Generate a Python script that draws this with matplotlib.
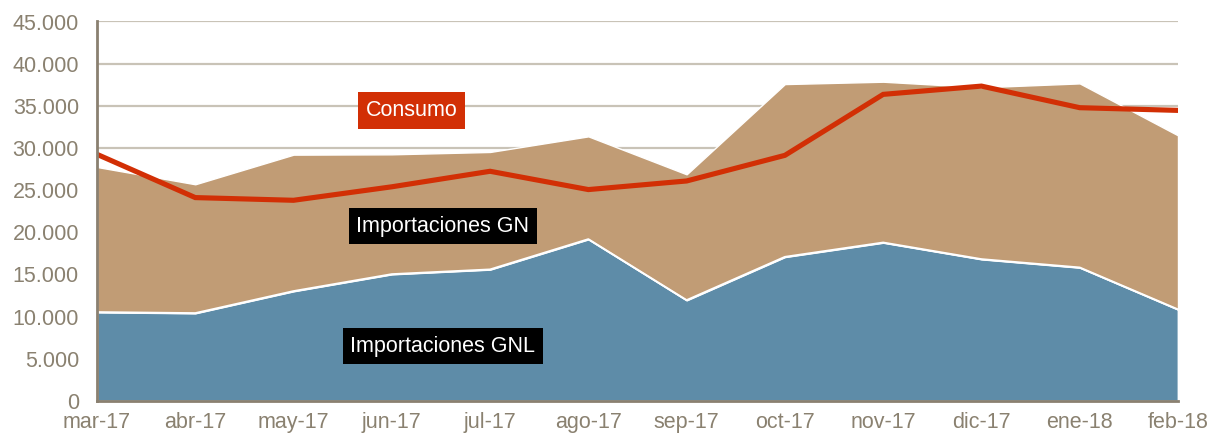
"""Stacked area chart of gas imports with consumption overlay."""

import matplotlib

matplotlib.use("Agg")
import matplotlib.pyplot as plt
import numpy as np

plt.rcParams["font.family"] = ["Liberation Sans", "DejaVu Sans"]

months = ["mar-17", "abr-17", "may-17", "jun-17", "jul-17", "ago-17",
          "sep-17", "oct-17", "nov-17", "dic-17", "ene-18", "feb-18"]

# Values in thousands of cubic metres (approx.)
importaciones_gnl = [10540, 10420, 13030, 15040, 15600, 19190,
                     11960, 17090, 18790, 16820, 15830, 10860]
importaciones_gn = [17210, 15280, 16180, 14210, 13930, 12190,
                    14920, 20490, 19070, 20380, 21830, 20640]
consumo = [29250, 24120, 23800, 25400, 27240, 25070,
           26090, 29130, 36360, 37340, 34780, 34460]

BLUE = "#5e8ca8"
TAN = "#c19c75"
RED = "#d22f05"
TEXT = "#8a8170"
GRID = "#c9c3b7"
SPINE = "#8a8070"

fig = plt.figure(figsize=(12.1, 4.36), dpi=100)
ax = fig.add_axes([97 / 1210, 35 / 436, 1081 / 1210, 379.5 / 436])

x = np.arange(len(months))
gnl = np.array(importaciones_gnl)
total = gnl + np.array(importaciones_gn)

ax.fill_between(x, 0, gnl, color=BLUE, edgecolor="white", linewidth=1.3, zorder=2)
ax.fill_between(x, gnl, total, color=TAN, edgecolor="white", linewidth=1.0, zorder=2)
ax.plot(x, gnl, color="white", linewidth=1.4, zorder=3)
ax.plot(x, consumo, color=RED, linewidth=3.7, solid_capstyle="round",
        solid_joinstyle="miter", zorder=4)

ax.set_xlim(0, 11)
ax.set_ylim(0, 45000)
ax.set_yticks(np.arange(0, 45001, 5000))
ax.yaxis.set_major_formatter(
    plt.FuncFormatter(lambda v, p: f"{v:,.0f}".replace(",", "."))
)
ax.set_xticks(x)
ax.set_xticklabels(months)

ax.grid(axis="y", color=GRID, linewidth=1.6, zorder=0)
ax.set_axisbelow(True)
ax.tick_params(axis="both", length=0, labelsize=15.5, colors=TEXT)
ax.tick_params(axis="y", pad=13)
ax.tick_params(axis="x", pad=8)

for side in ("top", "right"):
    ax.spines[side].set_visible(False)
for side in ("left", "bottom"):
    ax.spines[side].set_color(SPINE)
    ax.spines[side].set_linewidth(2)
    ax.spines[side].set_zorder(5)

# Series labels drawn inside the plot
label_kw = dict(fontsize=15.5, color="white", ha="center", va="center", zorder=6)
ax.text(3.2, 34450, "Consumo",
        bbox=dict(facecolor=RED, edgecolor="none", pad=5.5), **label_kw)
ax.text(3.52, 20750, "Importaciones GN",
        bbox=dict(facecolor="black", edgecolor="none", pad=5.5), **label_kw)
ax.text(3.52, 6500, "Importaciones GNL",
        bbox=dict(facecolor="black", edgecolor="none", pad=5.5), **label_kw)

fig.savefig("out.png", dpi=100)
